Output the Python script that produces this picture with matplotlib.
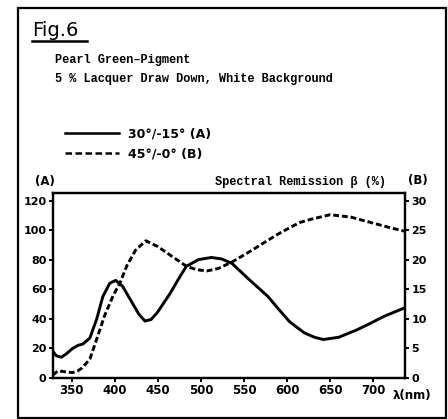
import matplotlib
matplotlib.use("Agg")
import matplotlib.pyplot as plt
from matplotlib.lines import Line2D

# Solid curve (A), 30°/-15°
wl_a = [328, 332, 338, 344, 351, 357, 363, 371, 379, 386, 394, 401, 409, 421, 428,
        435, 442, 449, 464, 473, 483, 497, 512, 524, 536, 557, 578, 588, 603, 620,
        632, 642, 660, 681, 697, 712, 737]
remission_a = [18, 15, 14, 16.5, 20, 22, 23, 27, 40, 55, 64, 66, 62, 50, 43,
               38.5, 39.5, 44, 57, 66, 75.5, 80, 81.5, 80.5, 77.5, 66, 55, 48, 38, 30.5,
               27.5, 26, 27.5, 32.5, 37, 41.5, 47.5]

# Dashed curve (B), 45°/-0°
wl_b = [328, 334, 344, 351, 357, 362, 371, 379, 388, 398, 406, 414, 424, 436, 450,
        464, 483, 495, 507, 520, 536, 557, 588, 603, 615, 627, 650, 674, 697, 720, 737]
remission_b = [0.5, 1.2, 1.0, 0.9, 1.2, 1.7, 3.2, 6.6, 10.5, 13.9, 16.1, 19, 21.6, 23.2, 22.2,
               20.8, 18.9, 18.3, 18.1, 18.5, 19.6, 21.4, 24.2, 25.4, 26.3, 26.8, 27.6, 27.2, 26.3, 25.4, 24.8]

x_ticks = [350, 400, 450, 500, 550, 600, 650, 700]
a_ticks = [0, 20, 40, 60, 80, 100, 120]
b_ticks = [0, 5, 10, 15, 20, 25, 30]

mono = "Liberation Mono"
hand = "DejaVu Sans"

fig = plt.figure(figsize=(4.48, 4.19), dpi=100)
ax = fig.add_axes([0.118, 0.098, 0.786, 0.441])
ax2 = ax.twinx()

line_a, = ax.plot(wl_a, remission_a, color="black", lw=2.1, solid_capstyle="round")
line_b, = ax2.plot(wl_b, remission_b, color="black", lw=2.1, dashes=(2.0, 1.0))

ax.set_xlim(328, 737)
ax.set_ylim(0, 125)
ax2.set_ylim(0, 31.25)

ax.set_xticks(x_ticks)
ax.set_yticks(a_ticks)
ax2.set_yticks(b_ticks)
for a in (ax, ax2):
    for s in a.spines.values():
        s.set_linewidth(1.6)
    a.tick_params(direction="out", length=3, width=1.4, pad=1.5)
for lab in ax.get_xticklabels() + ax.get_yticklabels() + ax2.get_yticklabels():
    lab.set_fontfamily(hand)
    lab.set_fontweight("bold")
    lab.set_fontsize(8)
for lab in ax.get_xticklabels():
    lab.set_fontsize(8.5)

# header texts
fig.text(0.072, 0.928, "Fig.6", family=hand, fontsize=14, va="center", ha="left")
fig.add_artist(Line2D([0.072, 0.194], [0.902, 0.902], transform=fig.transFigure,
                      color="black", lw=1.8))
fig.text(0.123, 0.857, "Pearl Green\u2013Pigment", family=mono, fontweight="bold",
         fontsize=8.6, va="center", ha="left")
fig.text(0.123, 0.811, "5 % Lacquer Draw Down, White Background", family=mono,
         fontweight="bold", fontsize=8.6, va="center", ha="left")

# legend
h_a = Line2D([], [], color="black", lw=1.8)
h_b = Line2D([], [], color="black", lw=1.8, dashes=(2.6, 1.4))
fig.legend([h_a, h_b], ["30\u00b0/-15\u00b0 (A)", "45\u00b0/-0\u00b0 (B)"],
           loc="center left", bbox_to_anchor=(0.12, 0.657), frameon=False,
           handlelength=4.3, handletextpad=0.7, labelspacing=0.55,
           prop={"family": hand, "weight": "bold", "size": 9})

fig.text(0.100, 0.566, "(A)", family=hand, fontweight="bold", fontsize=8.5,
         va="center", ha="center")
fig.text(0.932, 0.570, "(B)", family=hand, fontweight="bold", fontsize=8.5,
         va="center", ha="center")
fig.text(0.480, 0.566, "Spectral Remission \u03b2 (%)", family=mono, fontweight="bold",
         fontsize=8.6, va="center", ha="left")
fig.text(0.877, 0.057, "\u03bb(nm)", family=hand, fontweight="bold", fontsize=8.5,
         va="center", ha="left")

# frame around the whole figure
frame = plt.Rectangle((0.040, 0.002), 0.956, 0.979, transform=fig.transFigure,
                      fill=False, lw=1.6, color="black")
fig.add_artist(frame)

fig.savefig("out.png", dpi=100)
